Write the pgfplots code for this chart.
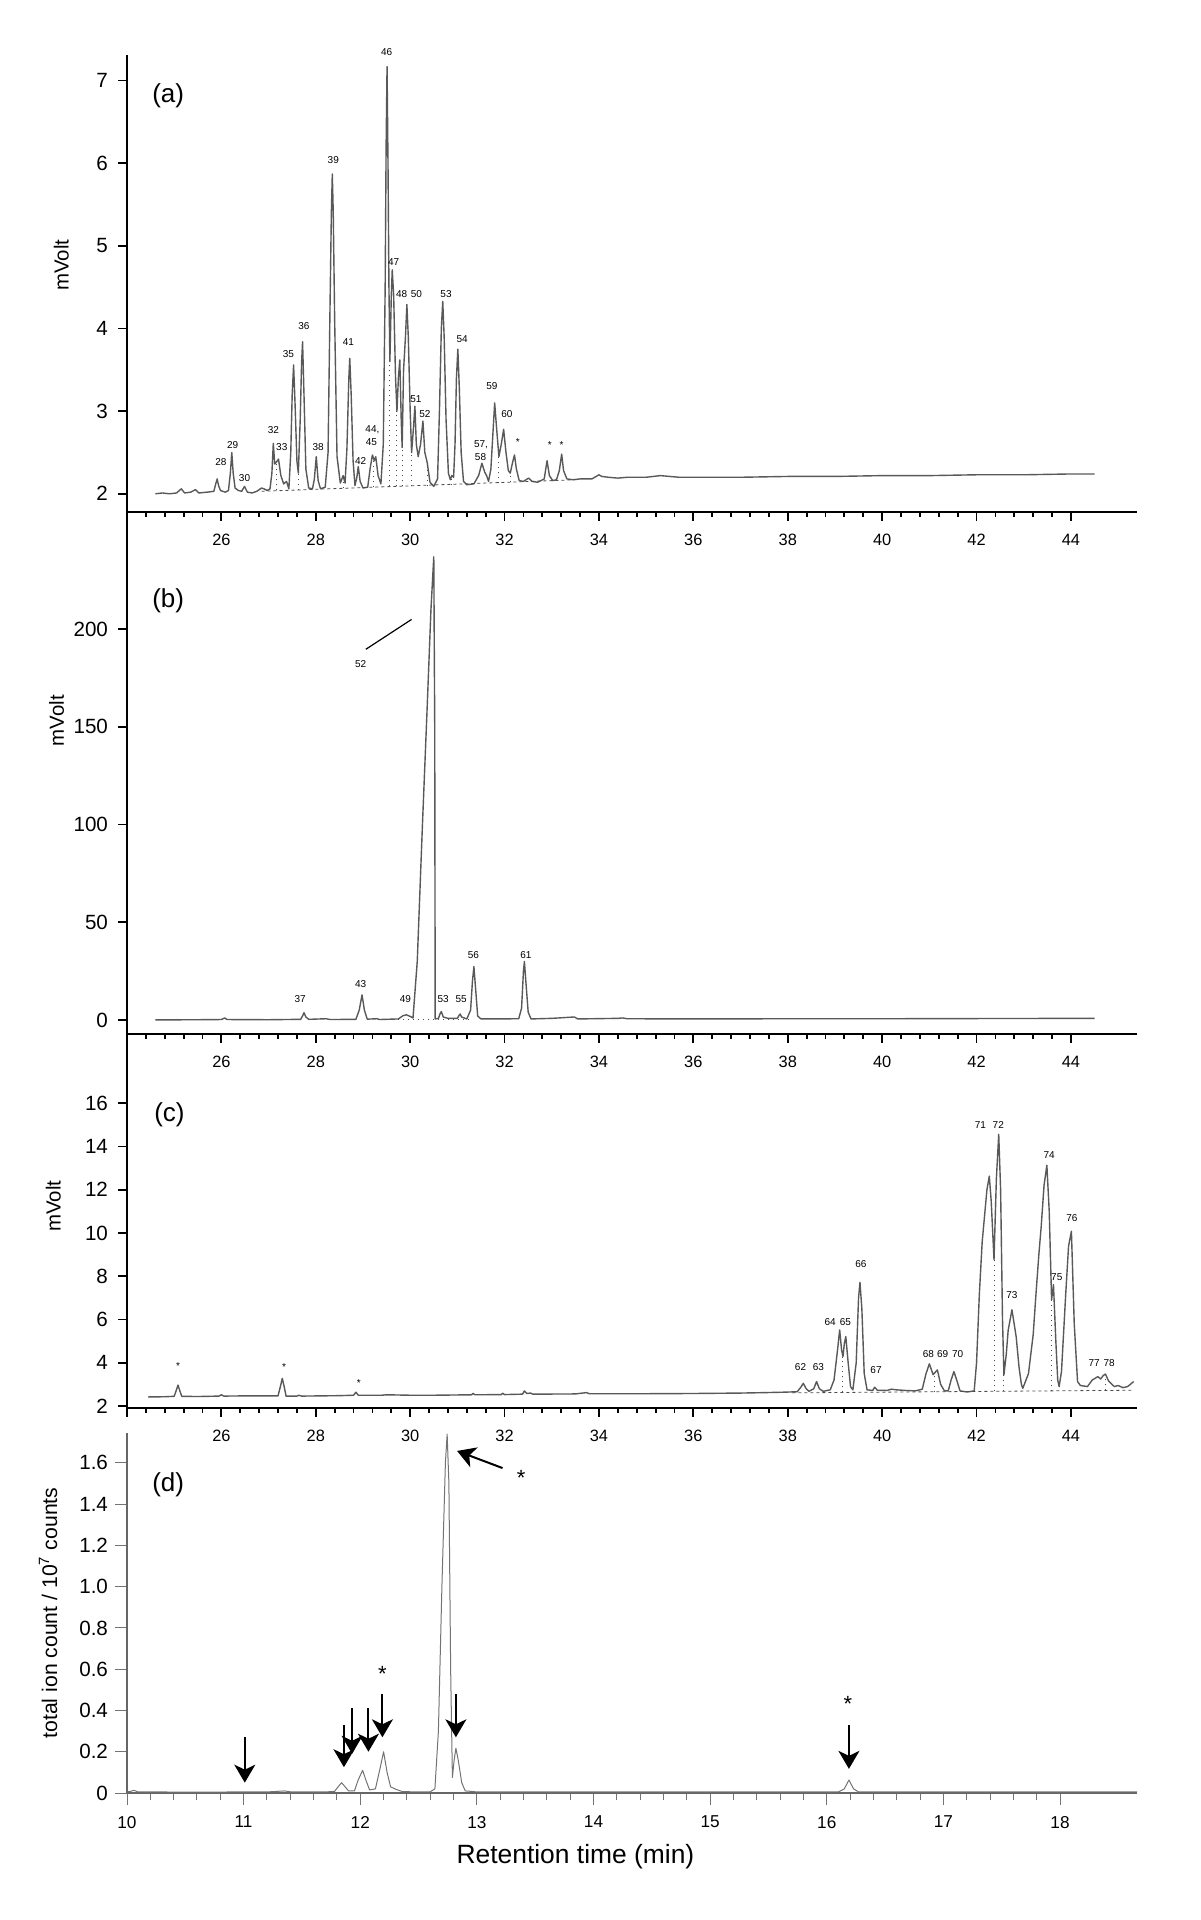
\documentclass[border=0pt]{standalone}
\usepackage{fontspec}
\setmainfont{Liberation Sans}
\usepackage{pgfplots}
\pgfplotsset{compat=1.18}
\usetikzlibrary{arrows.meta}

\definecolor{trace}{gray}{0.35}

\pgfplotsset{
  chrom/.style={
    scale only axis, width=505pt, anchor=south west,
    axis x line*=bottom, axis y line*=left,
    axis line style={-, line width=0.9pt},
    tick align=outside, tick style={black, line width=0.9pt},
    major tick length=4.5pt, minor tick length=2.5pt,
    xmin=24, xmax=45.4,
    xtick={24,26,...,44},
    xticklabels={,26,28,30,32,34,36,38,40,42,44},
    minor x tick num=4,
    /pgf/number format/assume math mode=true,
    xticklabel style={font=\fontsize{8.2}{9}\selectfont, yshift=-3pt},
    yticklabel style={font=\fontsize{10.3}{12}\selectfont, xshift=-1.5pt},
    ylabel style={font=\fontsize{10.2}{12}\selectfont, anchor=center},
    clip=false,
  },
  tr/.style={trace, line width=0.7pt, line join=round, mark=none},
  drop/.style={black!70, dotted, line width=0.5pt, unbounded coords=jump, mark=none},
  base/.style={black!70, dashed, line width=0.4pt, dash pattern=on 1.5pt off 1.5pt, mark=none},
}
\tikzset{
  pk/.style={font=\fontsize{5}{6}\selectfont, inner sep=0pt},
  panel/.style={font=\fontsize{13}{15}\selectfont, anchor=west},
  dar/.style={black, line width=1pt, -{Stealth[length=9pt,width=10.5pt,inset=2.5pt]}},
}

\begin{document}
\begin{tikzpicture}
\useasboundingbox (0,0) rectangle (600pt,960pt);

% (a)
\begin{axis}[chrom, at={(63.5pt,704pt)}, height=228.5pt,
  ymin=1.78, ymax=7.31, ytick={2,3,4,5,6,7},
  ylabel={mVolt}, ylabel style={at={(axis description cs:-0.065,0.54)}}]
\addplot[tr] coordinates {
(24.60,2.00) (24.75,2.01) (24.90,2.00) (25.05,2.01) (25.15,2.06) (25.22,2.01)
(25.35,2.02) (25.45,2.05) (25.52,2.01) (25.70,2.02) (25.84,2.03) (25.88,2.12)
(25.91,2.18) (25.94,2.10) (25.98,2.04) (26.08,2.02) (26.15,2.04) (26.19,2.25)
(26.22,2.50) (26.25,2.25) (26.29,2.07) (26.36,2.04) (26.43,2.03) (26.49,2.09)
(26.55,2.02) (26.65,2.01) (26.75,2.03) (26.85,2.07) (26.90,2.06) (26.97,2.04)
(27.03,2.06) (27.07,2.25) (27.10,2.61) (27.13,2.36) (27.16,2.38) (27.21,2.42)
(27.26,2.22) (27.32,2.12) (27.38,2.15) (27.43,2.06) (27.47,2.50) (27.50,3.20)
(27.53,3.56) (27.56,3.10) (27.60,2.40) (27.63,2.25) (27.67,2.90) (27.70,3.60)
(27.72,3.84) (27.75,3.20) (27.79,2.30) (27.85,2.07) (27.93,2.06) (27.97,2.18)
(28.01,2.45) (28.05,2.16) (28.10,2.06) (28.20,2.08) (28.26,2.50) (28.30,4.20)
(28.33,5.40) (28.35,5.87) (28.37,5.40) (28.40,4.10) (28.45,2.45) (28.52,2.13)
(28.58,2.22) (28.62,2.13) (28.66,2.55) (28.70,3.40) (28.72,3.64) (28.75,3.20)
(28.79,2.40) (28.83,2.10) (28.87,2.20) (28.90,2.33) (28.94,2.15) (29.00,2.07)
(29.10,2.08) (29.15,2.30) (29.20,2.47) (29.24,2.40) (29.27,2.45) (29.32,2.22)
(29.38,2.12) (29.43,2.60) (29.47,4.50) (29.49,6.20) (29.51,7.17) (29.53,6.00)
(29.55,4.50) (29.57,3.60) (29.60,4.40) (29.62,4.71) (29.65,4.40) (29.69,3.40)
(29.72,3.00) (29.75,3.40) (29.78,3.62) (29.81,2.90) (29.83,2.56) (29.86,3.50)
(29.90,3.90) (29.93,4.29) (29.96,3.90) (30.00,3.00) (30.03,2.50) (30.07,2.80)
(30.10,3.06) (30.13,2.60) (30.17,2.45) (30.22,2.60) (30.27,2.88) (30.31,2.50)
(30.36,2.38) (30.42,2.14) (30.50,2.09) (30.58,2.18) (30.62,3.00) (30.66,4.00)
(30.69,4.33) (30.72,3.90) (30.76,2.90) (30.81,2.25) (30.85,2.17) (30.88,2.22)
(30.92,2.20) (30.95,2.60) (30.98,3.40) (31.01,3.75) (31.04,3.30) (31.08,2.50)
(31.13,2.15) (31.20,2.11) (31.35,2.12) (31.45,2.22) (31.52,2.37) (31.58,2.26)
(31.62,2.22) (31.66,2.15) (31.71,2.30) (31.75,2.70) (31.79,3.10) (31.83,2.80)
(31.88,2.45) (31.93,2.60) (31.98,2.78) (32.03,2.50) (32.08,2.28) (32.12,2.25)
(32.17,2.38) (32.21,2.47) (32.25,2.30) (32.31,2.16) (32.40,2.15) (32.51,2.19)
(32.58,2.15) (32.70,2.14) (32.84,2.18) (32.90,2.40) (32.95,2.22) (33.02,2.16)
(33.10,2.17) (33.16,2.28) (33.21,2.48) (33.25,2.28) (33.32,2.18) (33.45,2.17)
(33.60,2.18) (33.85,2.18) (34.00,2.23) (34.06,2.21) (34.20,2.20) (34.40,2.19)
(34.60,2.20) (35.00,2.20) (35.30,2.22) (35.50,2.21) (35.70,2.20) (36.00,2.20)
(37.00,2.20) (38.00,2.21) (39.00,2.21) (40.00,2.22) (41.00,2.22) (42.00,2.23)
(43.00,2.23) (44.00,2.24) (44.50,2.24)};
\addplot[base] coordinates {(26.85,2.03) (33.50,2.17)};
\addplot[drop] coordinates {
(27.16,2.04) (27.16,2.38) (27.16,nan)
(27.63,2.05) (27.63,2.25) (27.63,nan)
(28.58,2.07) (28.58,2.20) (28.58,nan)
(29.23,2.08) (29.23,2.40) (29.23,nan)
(29.57,2.09) (29.57,3.60) (29.57,nan)
(29.72,2.09) (29.72,3.00) (29.72,nan)
(29.83,2.09) (29.83,2.56) (29.83,nan)
(30.03,2.10) (30.03,2.50) (30.03,nan)
(30.36,2.10) (30.36,2.38) (30.36,nan)
(30.88,2.11) (30.88,2.20) (30.88,nan)
(31.88,2.13) (31.88,2.45) (31.88,nan)
(32.12,2.14) (32.12,2.25)};
\node[panel] at (rel axis cs:0.018,0.91) {(a)};
\node[pk] at (axis cs:25.99,2.38) {28};
\node[pk] at (axis cs:26.24,2.59) {29};
\node[pk] at (axis cs:26.49,2.19) {30};
\node[pk] at (axis cs:27.10,2.77) {32};
\node[pk] at (axis cs:27.28,2.56) {33};
\node[pk] at (axis cs:27.42,3.69) {35};
\node[pk] at (axis cs:27.75,4.03) {36};
\node[pk] at (axis cs:28.05,2.56) {38};
\node[pk] at (axis cs:28.37,6.04) {39};
\node[pk] at (axis cs:28.69,3.84) {41};
\node[pk] at (axis cs:28.95,2.40) {42};
\node[pk] at (axis cs:29.20,2.77) {44,};
\node[pk] at (axis cs:29.18,2.62) {45};
\node[pk] at (axis cs:29.50,7.35) {46};
\node[pk] at (axis cs:29.65,4.80) {47};
\node[pk] at (axis cs:29.82,4.42) {48};
\node[pk] at (axis cs:30.13,4.42) {50};
\node[pk] at (axis cs:30.12,3.15) {51};
\node[pk] at (axis cs:30.31,2.96) {52};
\node[pk] at (axis cs:30.76,4.42) {53};
\node[pk] at (axis cs:31.10,3.87) {54};
\node[pk] at (axis cs:31.50,2.59) {57,};
\node[pk] at (axis cs:31.49,2.44) {58};
\node[pk] at (axis cs:31.73,3.30) {59};
\node[pk] at (axis cs:32.05,2.96) {60};
\node[pk] at (axis cs:32.28,2.62) {*};
\node[pk] at (axis cs:32.96,2.59) {*};
\node[pk] at (axis cs:33.21,2.59) {*};
\end{axis}

% (b)
\begin{axis}[chrom, at={(63.5pt,443pt)}, height=261pt,
  ymin=-7.2, ymax=260, ytick={0,50,100,150,200},
  ylabel={mVolt}, ylabel style={at={(axis description cs:-0.0696,0.60)}}]
\addplot[tr] coordinates {
(24.60,0.0) (25.50,0.1) (26.00,0.2) (26.07,1.0) (26.12,0.2) (27.00,0.1)
(27.68,0.3) (27.72,2.0) (27.75,3.7) (27.79,1.5) (27.85,0.3) (28.22,0.6)
(28.30,0.2) (28.85,0.3) (28.92,5.0) (28.98,12.8) (29.03,5.0) (29.09,0.4)
(29.30,0.6) (29.35,0.2) (29.75,0.5) (29.85,2.2) (29.92,2.6) (30.00,1.8)
(30.06,1.0) (30.15,30) (30.26,100) (30.36,160) (30.44,210) (30.50,237)
(30.52,150) (30.53,0.5) (30.60,0.8) (30.63,3.0) (30.66,4.3) (30.70,1.5)
(30.80,0.8) (31.00,0.8) (31.04,2.5) (31.06,3.0) (31.09,1.5) (31.20,0.5)
(31.28,5.0) (31.32,20.0) (31.35,27.3) (31.38,18.0) (31.43,2.0) (31.50,0.5)
(31.70,0.5) (32.30,0.6) (32.36,6.0) (32.40,25.0) (32.42,29.9) (32.45,20.0)
(32.50,4.0) (32.56,0.5) (33.00,0.8) (33.48,1.5) (33.55,0.5) (34.40,0.8)
(34.50,1.0) (34.60,0.6) (36.00,0.5) (38.00,0.6) (40.00,0.6) (42.00,0.7)
(44.50,0.8)};
\addplot[drop] coordinates {(29.75,0.3) (31.25,0.3)};
\draw[black, line width=0.6pt] (axis cs:29.06,189.7) -- (axis cs:30.03,205);
\node[panel] at (rel axis cs:0.018,0.83) {(b)};
\node[pk] at (axis cs:28.95,182.4) {52};
\node[pk] at (axis cs:27.67,10.6) {37};
\node[pk] at (axis cs:28.95,18.3) {43};
\node[pk] at (axis cs:29.90,10.6) {49};
\node[pk] at (axis cs:30.70,10.6) {53};
\node[pk] at (axis cs:31.08,10.6) {55};
\node[pk] at (axis cs:31.34,33.0) {56};
\node[pk] at (axis cs:32.45,33.0) {61};
\end{axis}

% (c)
\begin{axis}[chrom, at={(63.5pt,256pt)}, height=187pt,
  ymin=1.91, ymax=19.2, ytick={2,4,...,16},
  ylabel={mVolt}, ylabel style={at={(axis description cs:-0.073,0.54)}}]
\addplot[tr] coordinates {
(24.45,2.42) (24.80,2.43) (25.00,2.45) (25.04,2.70) (25.08,2.97) (25.12,2.70)
(25.16,2.45) (25.50,2.44) (25.95,2.46) (26.00,2.52) (26.05,2.46) (26.50,2.47)
(27.20,2.47) (27.25,2.90) (27.29,3.28) (27.33,2.90) (27.37,2.46) (27.60,2.46)
(27.64,2.50) (27.70,2.46) (28.50,2.48) (28.80,2.50) (28.85,2.64) (28.90,2.50)
(29.40,2.50) (29.50,2.52) (30.00,2.50) (30.50,2.50) (31.30,2.52) (31.33,2.59)
(31.37,2.52) (31.93,2.53) (31.96,2.59) (32.00,2.53) (32.38,2.55) (32.42,2.70)
(32.47,2.58) (32.55,2.60) (32.60,2.55) (33.50,2.56) (33.73,2.62) (33.80,2.57)
(35.00,2.57) (36.00,2.58) (37.00,2.60) (37.50,2.62) (37.90,2.64) (38.20,2.66)
(38.27,2.85) (38.33,3.05) (38.39,2.80) (38.45,2.68) (38.55,2.80) (38.61,3.13)
(38.67,2.80) (38.75,2.68) (38.90,2.75) (38.98,3.20) (39.05,4.50) (39.10,5.52)
(39.14,4.60) (39.17,4.29) (39.20,4.90) (39.23,5.21) (39.28,4.00) (39.33,2.90)
(39.38,2.75) (39.45,4.00) (39.50,7.00) (39.53,7.72) (39.57,6.50) (39.62,3.50)
(39.68,2.75) (39.80,2.72) (39.84,2.87) (39.90,2.73) (40.10,2.72) (40.20,2.78)
(40.30,2.75) (40.50,2.72) (40.70,2.70) (40.85,2.78) (40.93,3.50) (41.00,3.95)
(41.08,3.45) (41.12,3.55) (41.17,3.67) (41.24,3.00) (41.32,2.70) (41.40,2.70)
(41.46,3.20) (41.52,3.59) (41.58,3.20) (41.65,2.70) (41.80,2.65) (41.95,2.70)
(42.00,4.00) (42.06,7.20) (42.12,9.60) (42.17,10.80) (42.22,12.00) (42.27,12.63)
(42.31,11.50) (42.37,8.77) (42.42,12.50) (42.47,14.56) (42.51,12.00) (42.55,6.00)
(42.58,3.44) (42.63,4.40) (42.67,5.50) (42.75,6.45) (42.84,5.20) (42.90,3.80)
(42.95,3.00) (42.98,2.82) (43.10,3.50) (43.20,5.30) (43.26,7.20) (43.32,9.00)
(43.37,10.30) (43.43,12.20) (43.49,13.13) (43.54,11.00) (43.59,6.91) (43.63,7.61)
(43.68,5.00) (43.72,3.20) (43.75,2.90) (43.80,3.60) (43.89,7.20) (43.95,9.40)
(44.01,10.08) (44.07,5.80) (44.14,3.13) (44.20,2.95) (44.35,2.90) (44.45,3.20)
(44.57,3.36) (44.63,3.25) (44.68,3.40) (44.73,3.48) (44.80,3.15) (44.92,2.90)
(45.00,2.95) (45.10,2.85) (45.20,2.90) (45.33,3.13)};
\addplot[base] coordinates {(38.10,2.61) (45.30,2.73)};
\addplot[drop] coordinates {
(39.17,2.63) (39.17,4.29) (39.17,nan)
(41.10,2.66) (41.10,3.45) (41.10,nan)
(42.37,2.68) (42.37,8.77) (42.37,nan)
(42.58,2.69) (42.58,3.44) (42.58,nan)
(43.59,2.70) (43.59,6.91) (43.59,nan)
(44.73,2.72) (44.73,3.48)};
\node[panel] at (rel axis cs:0.02,0.783) {(c)};
\node[pk] at (axis cs:25.08,3.87) {*};
\node[pk] at (axis cs:27.33,3.78) {*};
\node[pk] at (axis cs:28.91,3.08) {*};
\node[pk] at (axis cs:38.27,3.79) {62};
\node[pk] at (axis cs:38.65,3.79) {63};
\node[pk] at (axis cs:38.90,5.86) {64};
\node[pk] at (axis cs:39.22,5.86) {65};
\node[pk] at (axis cs:39.55,8.58) {66};
\node[pk] at (axis cs:39.87,3.67) {67};
\node[pk] at (axis cs:40.98,4.40) {68};
\node[pk] at (axis cs:41.28,4.40) {69};
\node[pk] at (axis cs:41.60,4.40) {70};
\node[pk] at (axis cs:42.08,15.0) {71};
\node[pk] at (axis cs:42.46,15.0) {72};
\node[pk] at (axis cs:42.75,7.15) {73};
\node[pk] at (axis cs:43.54,13.58) {74};
\node[pk] at (axis cs:43.70,7.97) {75};
\node[pk] at (axis cs:44.02,10.70) {76};
\node[pk] at (axis cs:44.49,4.00) {77};
\node[pk] at (axis cs:44.81,4.00) {78};
\end{axis}

% (d)
\begin{axis}[scale only axis, width=505pt, height=180pt, anchor=south west,
  at={(63.5pt,63.5pt)},
  axis x line*=bottom, axis y line*=left,
  axis line style={-, black!60, line width=0.6pt},
  tick align=outside, tick style={black!55, line width=0.5pt},
  major tick length=6pt, minor tick length=3.5pt,
  xmin=10, xmax=18.66, ymin=0, ymax=1.745,
  xtick={10,...,18}, minor x tick num=4,
  ytick={0,0.2,0.4,0.6,0.8,1.0,1.2,1.4,1.6},
  yticklabels={0,0.2,0.4,0.6,0.8,1.0,1.2,1.4,1.6},
  /pgf/number format/assume math mode=true,
  xticklabel style={font=\fontsize{8.6}{10}\selectfont, yshift=-2pt},
  yticklabel style={font=\fontsize{10.3}{12}\selectfont},
  ylabel={total ion count / 10\textsuperscript{7} counts},
  ylabel style={font=\fontsize{10.6}{12}\selectfont, anchor=center,
    at={(axis description cs:-0.078,0.5)}},
  xlabel={Retention time (min)},
  xlabel style={font=\fontsize{13.2}{15}\selectfont, anchor=center,
    at={(axis description cs:0.444,-0.178)}},
  clip=false]
\addplot[black!55, line width=0.5pt, line join=round, mark=none] coordinates {
(10.00,0.005) (10.03,0.008) (10.06,0.013) (10.09,0.006) (10.30,0.005)
(10.60,0.004) (10.90,0.005) (11.00,0.006) (11.20,0.005) (11.35,0.010)
(11.40,0.006) (11.70,0.005) (11.78,0.008) (11.81,0.030) (11.84,0.050)
(11.87,0.030) (11.90,0.010) (11.95,0.010) (11.98,0.060) (12.02,0.110)
(12.05,0.060) (12.08,0.015) (12.13,0.020) (12.17,0.120) (12.20,0.200)
(12.23,0.100) (12.26,0.030) (12.31,0.017) (12.36,0.007) (12.50,0.005)
(12.60,0.006) (12.64,0.020) (12.67,0.300) (12.70,1.000) (12.73,1.600)
(12.745,1.740) (12.76,1.500) (12.775,0.600) (12.79,0.075) (12.805,0.160)
(12.82,0.217) (12.84,0.160) (12.87,0.050) (12.90,0.010) (12.95,0.008)
(13.00,0.005) (14.00,0.005) (15.00,0.005) (16.10,0.005) (16.15,0.020)
(16.19,0.063) (16.23,0.020) (16.27,0.006) (16.50,0.005) (17.00,0.005)
(18.00,0.005) (18.66,0.005)};
\node[panel] at (rel axis cs:0.018,0.856) {(d)};
\draw[dar] (axis cs:11.01,0.27) -- (axis cs:11.01,0.05);
\draw[dar] (axis cs:11.86,0.33) -- (axis cs:11.86,0.125);
\draw[dar] (axis cs:11.93,0.41) -- (axis cs:11.93,0.19);
\draw[dar] (axis cs:12.07,0.41) -- (axis cs:12.07,0.20);
\draw[dar] (axis cs:12.19,0.48) -- (axis cs:12.19,0.27);
\draw[dar] (axis cs:12.82,0.48) -- (axis cs:12.82,0.27);
\draw[dar] (axis cs:16.19,0.33) -- (axis cs:16.19,0.117);
\draw[dar] (axis cs:13.22,1.575) -- (axis cs:12.83,1.658);
\node[font=\fontsize{11}{12}\selectfont] at (axis cs:12.19,0.575) {*};
\node[font=\fontsize{11}{12}\selectfont] at (axis cs:16.18,0.43) {*};
\node[font=\fontsize{11}{12}\selectfont] at (axis cs:13.38,1.528) {*};
\end{axis}
\end{tikzpicture}
\end{document}
